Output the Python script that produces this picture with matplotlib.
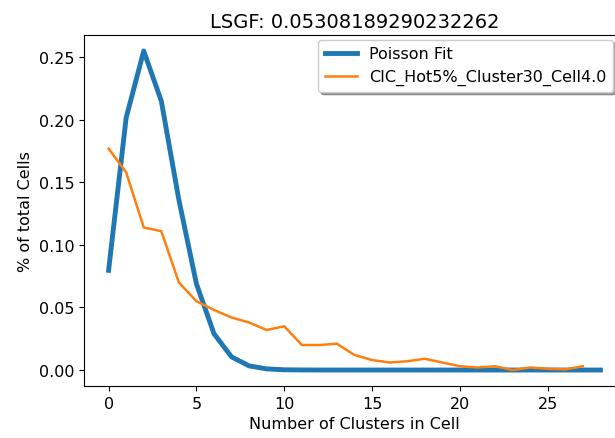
import numpy as np
import matplotlib
matplotlib.use("Agg")
import matplotlib.pyplot as plt

# values
poisson_x = list(range(29))
poisson_y = [0.0797, 0.2017, 0.2551, 0.2151, 0.1361, 0.0689, 0.0290, 0.0105,
             0.0033, 0.0009, 0.0002, 0.00006, 0.00001] + [0.0] * 16

cic_x = list(range(28))
cic_y = [0.177, 0.158, 0.114, 0.111, 0.070, 0.055, 0.048, 0.042, 0.038, 0.032,
         0.035, 0.020, 0.020, 0.021, 0.012, 0.008, 0.006, 0.007, 0.009, 0.006,
         0.003, 0.002, 0.003, 0.000, 0.002, 0.001, 0.0005, 0.003]

title = "LSGF: 0.05308189290232262"

plt.rcParams["font.size"] = 11.5

fig = plt.figure(figsize=(6.15, 4.39), dpi=100)
ax = fig.add_axes([0.1366, 0.1185, 0.8797, 0.7995])

ax.plot(poisson_x, poisson_y, color="#1f77b4", lw=3.5, label="Poisson Fit")
ax.plot(cic_x, cic_y, color="#ff7f0e", lw=1.8, label="CIC_Hot5%_Cluster30_Cell4.0")

ax.set_xticks([0, 5, 10, 15, 20, 25])
ax.set_yticks([0.00, 0.05, 0.10, 0.15, 0.20, 0.25])
ax.tick_params(labelsize=11.5)
ax.set_xlabel("Number of Clusters in Cell", fontsize=11.5)
ax.set_ylabel("% of total Cells", fontsize=11.5)
ax.set_title(title, fontsize=14)
ax.legend(loc="upper right", shadow=True, fontsize=11.5,
          bbox_to_anchor=(0.978, 0.986), borderaxespad=0)

fig.savefig("out.png", dpi=100)
